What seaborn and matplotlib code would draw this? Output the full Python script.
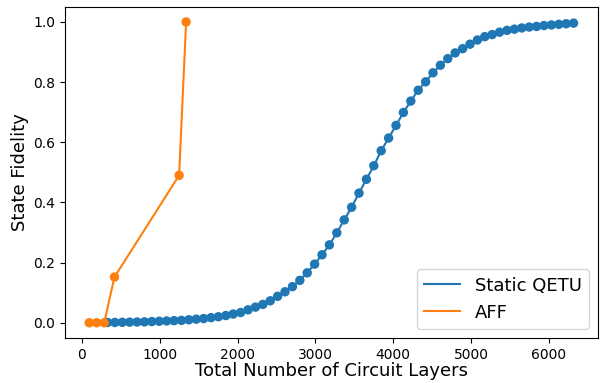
import pandas as pd
import matplotlib
matplotlib.use('Agg')
import matplotlib.pyplot as plt
import seaborn as sns

# -----------------------------------------------------------------------------
# ----------------- values ----------------------------------------------------
QETU_LAYERS = [330, 425, 520, 615, 710, 805, 900, 995, 1090, 1185,
               1280, 1375, 1470, 1565, 1660, 1755, 1850, 1945, 2040, 2135,
               2230, 2325, 2420, 2515, 2610, 2705, 2800, 2895, 2990, 3085,
               3180, 3275, 3370, 3465, 3560, 3655, 3750, 3845, 3940, 4035,
               4130, 4225, 4320, 4415, 4510, 4605, 4700, 4795, 4890, 4985,
               5080, 5175, 5270, 5365, 5460, 5555, 5650, 5745, 5840, 5935,
               6030, 6125, 6220, 6315]
QETU_FIDELITY = [0.001, 0.001, 0.0015, 0.002, 0.0025, 0.003, 0.004, 0.005,
                 0.006, 0.007, 0.008, 0.010, 0.012, 0.014, 0.017, 0.020,
                 0.024, 0.029, 0.034, 0.043, 0.052, 0.061, 0.073, 0.088,
                 0.103, 0.120, 0.141, 0.166, 0.195, 0.226, 0.259, 0.299,
                 0.342, 0.384, 0.431, 0.477, 0.522, 0.572, 0.614, 0.656,
                 0.699, 0.737, 0.773, 0.801, 0.831, 0.856, 0.878, 0.897,
                 0.911, 0.926, 0.940, 0.951, 0.958, 0.966, 0.972, 0.976,
                 0.980, 0.983, 0.985, 0.988, 0.990, 0.992, 0.994, 0.996]

AFF_LAYERS = [96, 192, 288, 420, 1250, 1340]
AFF_FIDELITY = [0.0, 0.0, 0.0, 0.152, 0.49, 1.0]

SERIES_NAMES = ['Static QETU', 'AFF']
COLORS = ['#1f77b4', '#ff7f0e']

# -----------------------------------------------------------------------------


def build_frame(layers, fidelity, name):
    ''' long-form table for one method '''
    return pd.DataFrame({'layers': layers, 'fidelity': fidelity,
                         'method': name})

# -----------------------------------------------------------------------------


def plot_fidelity():
    qetu_df = build_frame(QETU_LAYERS, QETU_FIDELITY, SERIES_NAMES[0])
    aff_df = build_frame(AFF_LAYERS, AFF_FIDELITY, SERIES_NAMES[1])

    fig, ax = plt.subplots(figsize=(6.02, 3.83), dpi=100)
    fig.subplots_adjust(left=0.108, right=0.993, bottom=0.118, top=0.982)

    for df, color in zip([qetu_df, aff_df], COLORS):
        # line carries the legend entry, dots are drawn on top without one
        sns.lineplot(data=df, x='layers', y='fidelity', color=color,
                     label=df['method'].iloc[0], sort=False, ax=ax,
                     linewidth=1.5)
        sns.scatterplot(data=df, x='layers', y='fidelity', color=color,
                        s=46, edgecolor='none', legend=False, ax=ax,
                        zorder=3)

    ax.set_xlabel('Total Number of Circuit Layers', fontsize=13, labelpad=0)
    ax.set_ylabel('State Fidelity', fontsize=13, labelpad=3)
    ax.set_xticks([0, 1000, 2000, 3000, 4000, 5000, 6000])
    ax.set_yticks([0.0, 0.2, 0.4, 0.6, 0.8, 1.0])
    ax.legend(loc='lower right', fontsize=13, frameon=True)

    fig.savefig('out.png', dpi=100)

# -----------------------------------------------------------------------------


if __name__ == '__main__':
    plot_fidelity()
